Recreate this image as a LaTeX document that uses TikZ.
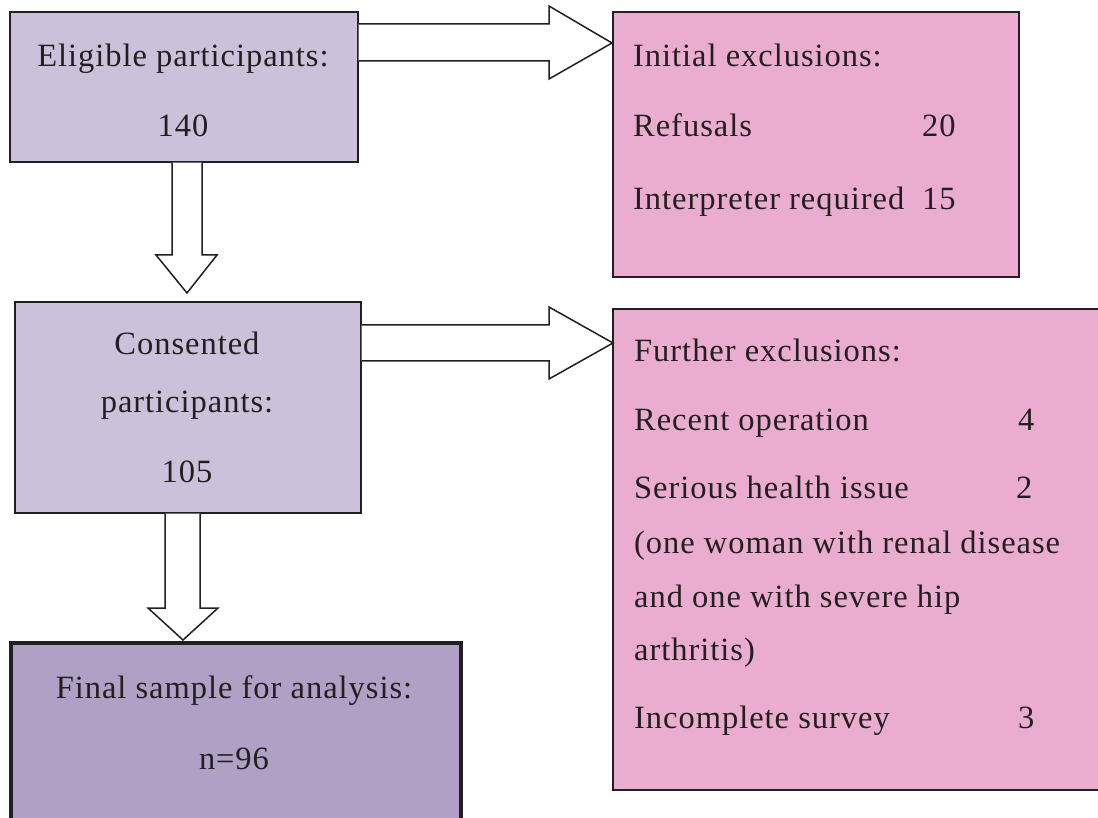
\documentclass[tikz,border=0pt]{standalone}
\usepackage{fontspec}
\setmainfont{Liberation Serif}[LetterSpace=3]
\usepackage{tikz}
\usetikzlibrary{
    calc    % Coordinate calculations
}

\definecolor{lilac}{RGB}{205,192,218}
\definecolor{deeplilac}{RGB}{176,160,198}
\definecolor{rosepink}{RGB}{234,173,208}
\definecolor{inkdark}{RGB}{35,31,32}

\tikzset{
    flowbox/.style={draw=inkdark, line width=1.6pt, rectangle, inner sep=0pt, anchor=north west},
    lilacbox/.style={flowbox, fill=lilac},
    pinkbox/.style={flowbox, fill=rosepink},
    finalbox/.style={flowbox, fill=deeplilac, line width=3.5pt},
    boxtext/.style={inner sep=0pt, text=inkdark, font=\fontsize{32.5}{39}\selectfont},
    blockarrow/.style={draw=inkdark, fill=white, line width=1.5pt, line join=miter}
}

\begin{document}
\begin{tikzpicture}[x=1pt,y=-1pt]
    \useasboundingbox (0,0) rectangle (1098,818);

    % boxes
    \node[lilacbox, minimum width=348pt, minimum height=150pt] (elig) at (9,11) {};
    \node[pinkbox, minimum width=406pt, minimum height=265pt] (initial) at (612,11) {};
    \node[lilacbox, minimum width=346pt, minimum height=211pt] (consent) at (14,301) {};
    \node[pinkbox, minimum width=520pt, minimum height=481pt] (further) at (612,308) {};
    \node[finalbox, minimum width=450pt, minimum height=220pt] (final) at (9,641) {};

    % block arrows
    \draw[blockarrow] ($(elig.north east)+(0,13)$) -- ($(initial.north west)+(-63,13)$)
        -- ($(initial.north west)+(-63,-5)$) -- ($(initial.north west)+(0,32)$)
        -- ($(initial.north west)+(-63,68)$) -- ($(initial.north west)+(-63,50)$)
        -- ($(elig.north east)+(0,50)$);
    \draw[blockarrow] ($(consent.north east)+(0,24)$) -- ($(further.north west)+(-63,17)$)
        -- ($(further.north west)+(-63,-1)$) -- ($(further.north west)+(1,35)$)
        -- ($(further.north west)+(-63,71)$) -- ($(further.north west)+(-63,53)$)
        -- ($(consent.north east)+(0,60)$);
    \draw[blockarrow] ($(elig.south west)+(163,0)$) -- ($(consent.north west)+(158,-46)$)
        -- ($(consent.north west)+(142,-46)$) -- ($(consent.north west)+(173,-8)$)
        -- ($(consent.north west)+(203,-46)$) -- ($(consent.north west)+(188,-46)$)
        -- ($(elig.south west)+(193,0)$);
    \draw[blockarrow] ($(consent.south west)+(151,0)$) -- ($(final.north west)+(156,-33)$)
        -- ($(final.north west)+(139,-33)$) -- ($(final.north west)+(174,-1)$)
        -- ($(final.north west)+(209,-33)$) -- ($(final.north west)+(191,-33)$)
        -- ($(consent.south west)+(186,0)$);

    % texts of the lilac boxes
    \node[boxtext, anchor=base] (eligTitle) at (183,67) {Eligible participants:};
    \node[boxtext, anchor=base] (eligCount) at (183,137) {140};
    \node[boxtext, anchor=base] (consentTitleA) at (187,355) {Consented};
    \node[boxtext, anchor=base] (consentTitleB) at (187,412) {participants:};
    \node[boxtext, anchor=base] (consentCount) at (187,482) {105};
    \node[boxtext, anchor=base] (finalTitle) at (234,698) {Final sample for analysis:};
    \node[boxtext, anchor=base] (finalCount) at (234,769) {n=96};

    % texts of the pink boxes
    \node[boxtext, anchor=base west] (initialTitle) at (633,67) {Initial exclusions:};
    \node[boxtext, anchor=base west] (refusals) at (633,137) {Refusals};
    \node[boxtext, anchor=base west] (refusalsNum) at (922,137) {20};
    \node[boxtext, anchor=base west] (interp) at (633,210) {Interpreter required};
    \node[boxtext, anchor=base west] (interpNum) at (922,210) {15};

    \node[boxtext, anchor=base west] (furtherTitle) at (634,362) {Further exclusions:};
    \node[boxtext, anchor=base west] (operation) at (634,430) {Recent operation};
    \node[boxtext, anchor=base west] (operationNum) at (1018,430) {4};
    \node[boxtext, anchor=base west] (health) at (634,498) {Serious health issue};
    \node[boxtext, anchor=base west] (healthNum) at (1016,498) {2};
    \node[boxtext, anchor=base west] (healthA) at (634,553) {(one woman with renal disease};
    \node[boxtext, anchor=base west] (healthB) at (634,607) {and one with severe hip};
    \node[boxtext, anchor=base west] (healthC) at (634,660) {arthritis)};
    \node[boxtext, anchor=base west] (survey) at (634,728) {Incomplete survey};
    \node[boxtext, anchor=base west] (surveyNum) at (1018,728) {3};
\end{tikzpicture}
\end{document}
